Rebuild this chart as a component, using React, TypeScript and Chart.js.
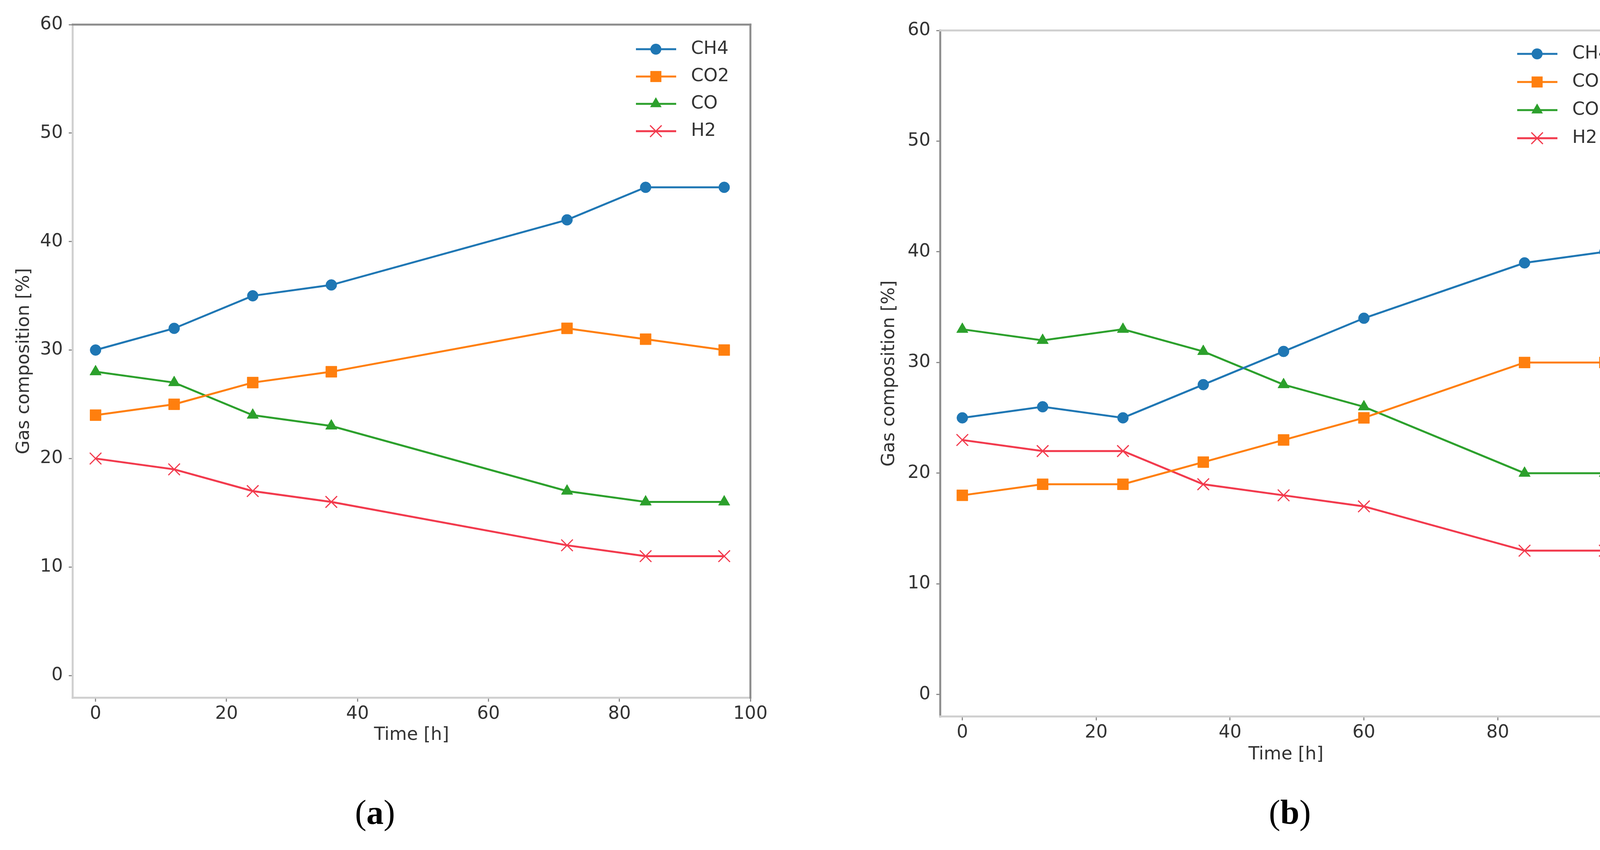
import React, { useEffect, useRef } from 'react';
import { Chart, registerables } from 'chart.js';

Chart.register(...registerables);

// ---- data ----
const timeA = [0, 12, 24, 36, 72, 84, 96];
const ch4A = [30, 32, 35, 36, 42, 45, 45];
const co2A = [24, 25, 27, 28, 32, 31, 30];
const coA = [28, 27, 24, 23, 17, 16, 16];
const h2A = [20, 19, 17, 16, 12, 11, 11];

const timeB = [0, 12, 24, 36, 48, 60, 84, 96];
const ch4B = [25, 26, 25, 28, 31, 34, 39, 40];
const co2B = [18, 19, 19, 21, 23, 25, 30, 30];
const coB = [33, 32, 33, 31, 28, 26, 20, 20];
const h2B = [23, 22, 22, 19, 18, 17, 13, 13];

const seriesLabels = ['CH4', 'CO2', 'CO', 'H2'];
const xTickValues = [0, 20, 40, 60, 80, 100];
const yTickValues = [0, 10, 20, 30, 40, 50, 60];
const xLabel = 'Time [h]';
const yLabel = 'Gas composition [%]';
const panelLetters = ['a', 'b'];

// ---- styles ----
const seriesColors = ['#1f77b4', '#ff7f0e', '#2ca02c', '#f23a4d'];
const seriesMarkers = ['circle', 'rect', 'triangle', 'crossRot'];
const seriesRadius = [14, 20, 17, 21];
const FONT = '"DejaVu Sans", Verdana, sans-serif';
const FS = 46;
const LH = FS * 1.2;
const TEXT = '#333333';
const LIGHT = '#cfcfcf';
const DARK = '#8c8c8c';
const H = 2177;

type Area = { left: number; top: number; right: number; bottom: number };
type PanelCfg = {
  time: number[];
  values: number[][];
  left: number;
  width: number;
  area: Area;
  xMin: number;
  yMin: number;
  yTitleX: number;
  xTitleY: number;
  spines: { left: string; top: string; right: string; bottom: string };
  legendFirst: number;
  legendStep: number;
};

const panels: PanelCfg[] = [
  {
    time: timeA,
    values: [ch4A, co2A, coA, h2A],
    left: 0,
    width: 2125,
    area: { left: 186, top: 63, right: 1921, bottom: 1787 },
    xMin: -3.5,
    yMin: -2.05,
    yTitleX: 62,
    xTitleY: 1883,
    spines: { left: LIGHT, bottom: LIGHT, top: DARK, right: DARK },
    legendFirst: 63,
    legendStep: 70,
  },
  {
    time: timeB,
    values: [ch4B, co2B, coB, h2B],
    left: 2125,
    width: 2126,
    area: { left: 282, top: 78, right: 2052, bottom: 1835 },
    xMin: -3.3,
    yMin: -1.98,
    yTitleX: 152,
    xTitleY: 1933,
    spines: { left: DARK, bottom: LIGHT, top: LIGHT, right: DARK },
    legendFirst: 60,
    legendStep: 72,
  },
];

function drawMarker(ctx: CanvasRenderingContext2D, style: string, x: number, y: number, r: number, color: string) {
  ctx.save();
  ctx.fillStyle = color;
  ctx.strokeStyle = color;
  ctx.lineWidth = 1;
  ctx.beginPath();
  if (style === 'circle') {
    ctx.arc(x, y, r, 0, Math.PI * 2);
    ctx.fill();
  } else if (style === 'rect') {
    const s = r * Math.SQRT1_2;
    ctx.rect(x - s, y - s, 2 * s, 2 * s);
    ctx.fill();
  } else if (style === 'triangle') {
    ctx.moveTo(x + 0.866 * r, y + 0.5 * r);
    ctx.lineTo(x - 0.866 * r, y + 0.5 * r);
    ctx.lineTo(x, y - r);
    ctx.closePath();
    ctx.fill();
  } else {
    const o = r * Math.SQRT1_2;
    ctx.lineWidth = 3;
    ctx.moveTo(x - o, y - o);
    ctx.lineTo(x + o, y + o);
    ctx.moveTo(x + o, y - o);
    ctx.lineTo(x - o, y + o);
    ctx.stroke();
  }
  ctx.restore();
}

function Panel({ cfg }: { cfg: PanelCfg }) {
  const ref = useRef<HTMLCanvasElement | null>(null);
  useEffect(() => {
    const canvas = ref.current;
    if (!canvas) return;
    const { area } = cfg;

    const framePlugin = {
      id: 'frameAndLegend',
      afterDraw(chart: any) {
        const ctx: CanvasRenderingContext2D = chart.ctx;
        const ca = chart.chartArea;
        ctx.save();
        ctx.lineWidth = 5;
        const seg = (c: string, x1: number, y1: number, x2: number, y2: number) => {
          ctx.strokeStyle = c;
          ctx.beginPath();
          ctx.moveTo(x1, y1);
          ctx.lineTo(x2, y2);
          ctx.stroke();
        };
        seg(cfg.spines.left, ca.left, ca.top - 2.5, ca.left, ca.bottom + 2.5);
        seg(cfg.spines.bottom, ca.left - 2.5, ca.bottom, ca.right + 2.5, ca.bottom);
        seg(cfg.spines.top, ca.left - 2.5, ca.top, ca.right + 2.5, ca.top);
        seg(cfg.spines.right, ca.right, ca.top - 2.5, ca.right, ca.bottom + 2.5);
        ctx.restore();

        // legend
        chart.data.datasets.forEach((ds: any, i: number) => {
          const y = ca.top + cfg.legendFirst + i * cfg.legendStep;
          ctx.save();
          ctx.strokeStyle = seriesColors[i];
          ctx.lineWidth = 5;
          ctx.beginPath();
          ctx.moveTo(ca.right - 293, y);
          ctx.lineTo(ca.right - 190, y);
          ctx.stroke();
          ctx.restore();
          drawMarker(ctx, seriesMarkers[i], ca.right - 242, y, seriesRadius[i], seriesColors[i]);
          ctx.save();
          ctx.fillStyle = TEXT;
          ctx.font = `${FS}px ${FONT}`;
          ctx.textAlign = 'left';
          ctx.textBaseline = 'middle';
          ctx.fillText(ds.label, ca.right - 152, y);
          ctx.restore();
        });
      },
    };

    const datasets = seriesLabels.map((label, i) => ({
      label,
      data: cfg.time.map((t, j) => ({ x: t, y: cfg.values[i][j] })),
      borderColor: seriesColors[i],
      backgroundColor: seriesColors[i],
      borderWidth: 5,
      tension: 0,
      fill: false,
      pointStyle: seriesMarkers[i],
      pointRadius: seriesRadius[i],
      pointBackgroundColor: seriesColors[i],
      pointBorderColor: seriesColors[i],
      pointBorderWidth: seriesMarkers[i] === 'crossRot' ? 3 : 1,
      pointHoverRadius: seriesRadius[i],
    }));

    const tickFont = { family: FONT, size: FS };

    const chart = new Chart(canvas, {
      type: 'line',
      data: { datasets },
      options: {
        animation: false,
        responsive: false,
        maintainAspectRatio: false,
        devicePixelRatio: 1,
        events: [],
        layout: { padding: { left: 0, top: area.top, right: cfg.width - area.right, bottom: 0 } },
        plugins: { legend: { display: false }, tooltip: { enabled: false } },
        scales: {
          x: {
            type: 'linear',
            min: cfg.xMin,
            max: 100,
            afterFit: (s: any) => {
              s.height = H - area.bottom;
            },
            afterBuildTicks: (s: any) => {
              s.ticks = xTickValues.map((v) => ({ value: v }));
            },
            grid: {
              display: true,
              drawOnChartArea: false,
              drawTicks: true,
              tickLength: 10,
              lineWidth: 3,
              tickWidth: 3,
              tickColor: DARK,
              color: DARK,
            },
            border: { display: false },
            ticks: {
              color: TEXT,
              font: tickFont,
              padding: 4,
              maxRotation: 0,
              autoSkip: false,
              callback: (v: any) => String(v),
            },
            title: {
              display: true,
              text: xLabel,
              color: TEXT,
              font: tickFont,
              padding: { top: 0, bottom: H - cfg.xTitleY - LH / 2 },
            },
          },
          y: {
            type: 'linear',
            min: cfg.yMin,
            max: 60,
            afterFit: (s: any) => {
              s.width = area.left;
            },
            afterBuildTicks: (s: any) => {
              s.ticks = yTickValues.map((v) => ({ value: v }));
            },
            grid: {
              display: true,
              drawOnChartArea: false,
              drawTicks: true,
              tickLength: 10,
              lineWidth: 3,
              tickWidth: 3,
              tickColor: DARK,
              color: DARK,
            },
            border: { display: false },
            ticks: {
              color: TEXT,
              font: tickFont,
              padding: 15,
              autoSkip: false,
              callback: (v: any) => String(v),
            },
            title: {
              display: true,
              text: yLabel,
              color: TEXT,
              font: tickFont,
              padding: { top: cfg.yTitleX - LH / 2, bottom: 0 },
            },
          },
        },
      } as any,
      plugins: [framePlugin],
    });
    return () => chart.destroy();
  }, [cfg]);

  return (
    <canvas
      ref={ref}
      width={cfg.width}
      height={H}
      style={{ position: 'absolute', left: cfg.left, top: 0, width: cfg.width, height: H }}
    />
  );
}

const letterCenters = [960, 3302];

export default function App() {
  return (
    <div
      style={{
        position: 'absolute',
        left: 0,
        top: 0,
        width: 4251,
        height: H,
        background: '#ffffff',
        overflow: 'hidden',
      }}
    >
      {panels.map((p, i) => (
        <Panel key={i} cfg={p} />
      ))}
      {panelLetters.map((l, i) => (
        <div
          key={l}
          style={{
            position: 'absolute',
            left: letterCenters[i] - 150,
            width: 300,
            top: 2037,
            textAlign: 'center',
            fontFamily: '"Liberation Serif", "Times New Roman", serif',
            fontSize: 88,
            lineHeight: 1,
            color: '#000',
          }}
        >
          (<b>{l}</b>)
        </div>
      ))}
    </div>
  );
}
